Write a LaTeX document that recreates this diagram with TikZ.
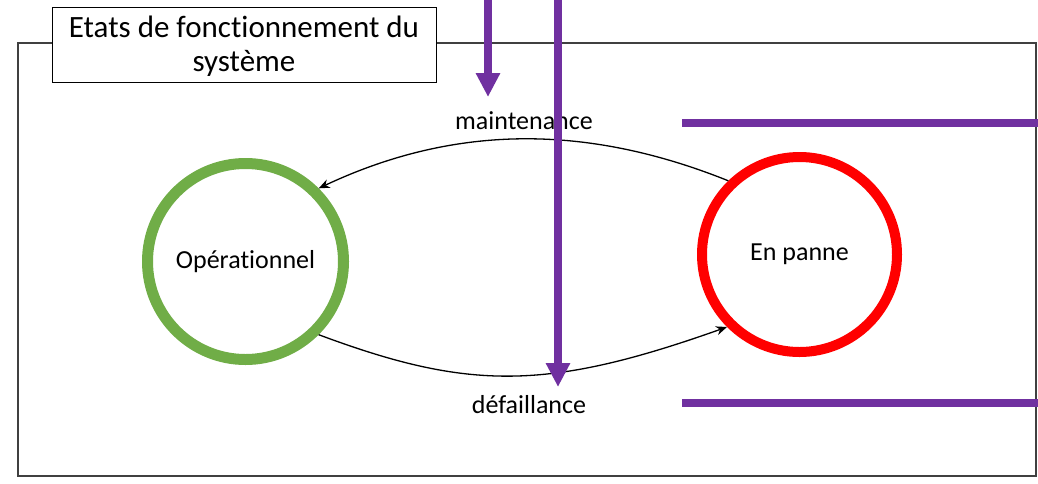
\documentclass[tikz,border=0pt]{standalone}
\usepackage{fontspec}
\setmainfont{Carlito}[Ligatures={NoCommon,NoContextual}]
\usetikzlibrary{arrows.meta}
\definecolor{okgreen}{HTML}{70AD47}
\definecolor{failred}{HTML}{FF0000}
\definecolor{markpurple}{HTML}{7030A0}
\definecolor{framegray}{HTML}{404040}
\begin{document}
\begin{tikzpicture}[x=1pt,y=-1pt,
  state/.style={circle, draw, fill=white, inner sep=0pt, font=\fontsize{26}{30}\selectfont},
  trans/.style={line width=1.3pt, -{Stealth[length=11pt,width=9pt]}},
  lbl/.style={font=\fontsize{26}{30}\selectfont, inner sep=0pt},
  purplebar/.style={draw=markpurple, line width=8pt},
  purplearrow/.style={purplebar, -{Triangle[length=24pt,width=23pt]}},
]
\useasboundingbox (0,0) rectangle (1038,483);

% outer frame
\draw[framegray, line width=1.3pt] (18,43) rectangle (1036,476);

% title box and its text
\node[draw, fill=white, line width=1pt, minimum width=384pt, minimum height=75pt,
      inner sep=0pt] (titlebox) at (244,44.5) {};
\node[inner sep=0pt, align=center, font=\fontsize{31}{34}\selectfont]
  (title) at (244,46) {Etats de fonctionnement du\\système};

% states
\node[state, draw=okgreen, line width=11pt, minimum size=196pt] (op) at (245.5,261.5) {Opérationnel};
\node[state, draw=failred, line width=10pt, minimum size=195pt] (down) at (799.5,254.5) {En panne};

% transitions
\draw[trans] (down.134) .. controls +(-142,-57) and +(136,-64) .. (op.45);
\draw[trans] (op.-45) .. controls +(150,56) and +(-180,64) .. (down.225);

% transition labels
\node[lbl] (maint) at (524,121) {maintenance};
\node[lbl] (fail) at (529,405) {défaillance};

% purple markers
\coordinate (pa1) at (488,0);
\coordinate (pa1end) at (488,97);
\coordinate (pa2) at (558,0);
\coordinate (pa2end) at (558,387);
\coordinate (hb1a) at (682,123);
\coordinate (hb1b) at (1038,123);
\coordinate (hb2a) at (682,403);
\coordinate (hb2b) at (1038,403);
\draw[purplearrow] (pa1) -- (pa1end);
\draw[purplearrow] (pa2) -- (pa2end);
\draw[purplebar] (hb1a) -- (hb1b);
\draw[purplebar] (hb2a) -- (hb2b);
\end{tikzpicture}
\end{document}
